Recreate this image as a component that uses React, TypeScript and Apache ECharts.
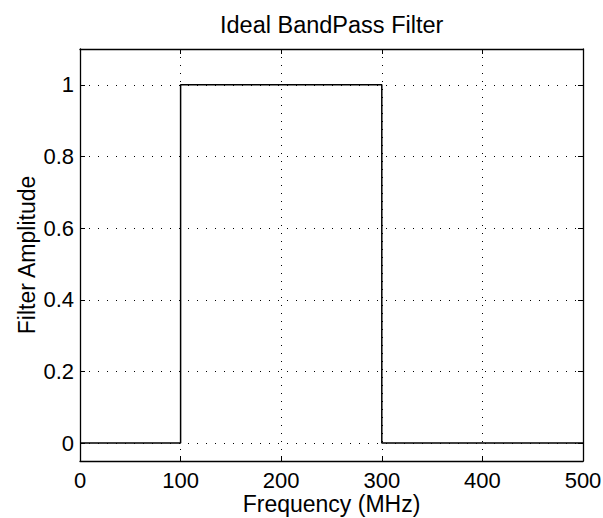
import React, { useEffect, useRef } from "react";
import * as echarts from "echarts";

const titleText = "Ideal BandPass Filter";
const xName = "Frequency (MHz)";
const yName = "Filter Amplitude";
const freqPoints = [0, 100, 100, 300, 300, 500];
const amplitudePoints = [0, 0, 1, 1, 0, 0];
const yTickValues = [0, 0.2, 0.4, 0.6, 0.8, 1];

const FONT = "'Liberation Sans', Arial, Helvetica, sans-serif";

export default function App() {
  const ref = useRef<HTMLDivElement>(null);
  useEffect(() => {
    document.body.style.margin = "0";
    const chart = echarts.init(ref.current!, null, { renderer: "svg" });
    const dotted = { color: "#000", width: 1, type: [1, 7] as number[] };
    const boxLine = { show: true, onZero: false, lineStyle: { color: "#000", width: 1.3 } };
    const tick = { show: true, inside: true, length: 5, lineStyle: { color: "#000", width: 1 } };
    chart.setOption({
      animation: false,
      backgroundColor: "#fff",
      textStyle: { fontFamily: FONT },
      title: {
        text: titleText,
        left: 215,
        top: 8,
        textStyle: { fontFamily: FONT, fontSize: 23.5, fontWeight: "normal", color: "#000" },
      },
      grid: {
        left: 80,
        top: 49,
        width: 503,
        height: 412,
        containLabel: false,
        outerBoundsMode: "none",
      },
      xAxis: [
        {
          type: "value",
          min: 0,
          max: 500,
          interval: 100,
          position: "bottom",
          name: xName,
          nameLocation: "middle",
          nameGap: 32,
          nameMoveOverlap: false,
          nameTextStyle: { fontFamily: FONT, fontSize: 23, lineHeight: 22, color: "#000" },
          axisLine: boxLine,
          axisTick: tick,
          axisLabel: { fontFamily: FONT, fontSize: 22, lineHeight: 22, color: "#000", margin: 8 },
          splitLine: { show: true, lineStyle: dotted },
        },
        {
          type: "value",
          min: 0,
          max: 500,
          interval: 100,
          position: "top",
          axisLine: boxLine,
          axisTick: tick,
          axisLabel: { show: false },
          splitLine: { show: false },
        },
      ],
      yAxis: [
        {
          type: "value",
          min: -0.05,
          max: 1.1,
          position: "left",
          name: yName,
          nameLocation: "middle",
          nameGap: 42,
          nameMoveOverlap: false,
          nameTextStyle: { fontFamily: FONT, fontSize: 23, lineHeight: 23, color: "#000" },
          axisLine: boxLine,
          axisTick: { ...tick, customValues: yTickValues },
          axisLabel: { fontFamily: FONT, fontSize: 22, color: "#000", margin: 6, customValues: yTickValues },
          splitLine: { show: true, lineStyle: { ...dotted, type: [1, 8] } },
        },
        {
          type: "value",
          min: -0.05,
          max: 1.1,
          position: "right",
          axisLine: boxLine,
          axisTick: { ...tick, customValues: yTickValues },
          axisLabel: { show: false, customValues: yTickValues },
          splitLine: { show: false },
        },
      ],
      series: [
        {
          type: "line",
          xAxisIndex: 0,
          yAxisIndex: 0,
          data: freqPoints.map((f, i) => [f, amplitudePoints[i]]),
          showSymbol: false,
          symbol: "none",
          lineStyle: { color: "#000", width: 1.5 },
          z: 5,
        },
      ],
    });
    return () => chart.dispose();
  }, []);
  return <div ref={ref} style={{ width: 603, height: 518 }} />;
}
